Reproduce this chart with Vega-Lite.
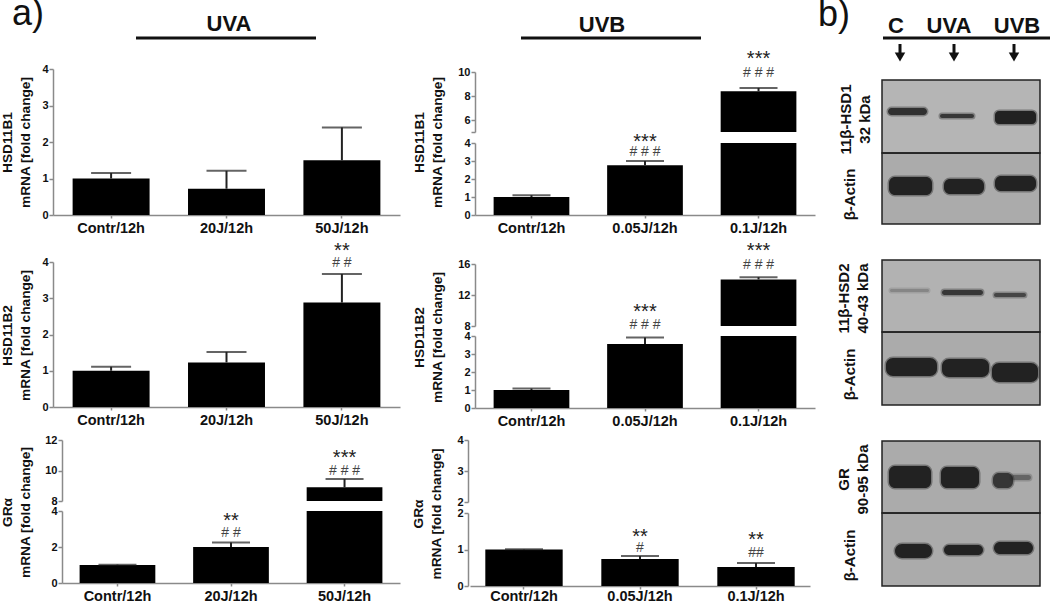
{
"$schema":"https://vega.github.io/schema/vega-lite/v6.json",
"background":"white",
"padding":{"left":-1,"top":-4,"right":0,"bottom":0},
"config":{"view":{"stroke":null},"font":"Liberation Sans",
"axis":{"grid":false,"domainColor":"#8a8a8a","domainWidth":1.5,"tickColor":"#8a8a8a","tickWidth":1.5,"tickSize":4,"labelFont":"Liberation Sans","labelFontWeight":"bold","labelColor":"#111","labelFontSize":11,"labelPadding":1,"titleFont":"Liberation Sans","titleFontWeight":"bold","titleColor":"#111","titleFontSize":13.7,"titleLineHeight":18},
"axisY":{"format":"d","tickCount":12},
"axisX":{"labelFontSize":14.5,"labelAngle":0,"tickSize":3,"labelPadding":3,"labelColor":"#111"}},
"datasets":{
"bars":[
{"uv":"UVA","gene":"HSD11B1","dose":"Contr/12h","mean":1,"low":1,"hi":1.15},
{"uv":"UVA","gene":"HSD11B1","dose":"20J/12h","mean":0.72,"low":0.72,"hi":1.21},
{"uv":"UVA","gene":"HSD11B1","dose":"50J/12h","mean":1.5,"low":1.5,"hi":2.4},
{"uv":"UVA","gene":"HSD11B2","dose":"Contr/12h","mean":1,"low":1,"hi":1.11},
{"uv":"UVA","gene":"HSD11B2","dose":"20J/12h","mean":1.23,"low":1.23,"hi":1.52},
{"uv":"UVA","gene":"HSD11B2","dose":"50J/12h","mean":2.88,"low":2.88,"hi":3.67,"stars":"**","hash":"# #","star_at":4.41,"hash_at":3.97},
{"uv":"UVA","gene":"GRa","dose":"Contr/12h","mean":1,"low":1,"hi":1.02},
{"uv":"UVA","gene":"GRa","dose":"20J/12h","mean":2,"low":2,"hi":2.25,"stars":"**","hash":"# #","star_at":3.67,"hash_at":2.78},
{"uv":"UVA","gene":"GRa","dose":"50J/12h","mean":8.9,"low":4,"hi":9.45,"stars":"***","hash":"# # #","star_at":11.08,"hash_at":10},
{"uv":"UVB","gene":"HSD11B1","dose":"Contr/12h","mean":1,"low":1,"hi":1.1},
{"uv":"UVB","gene":"HSD11B1","dose":"0.05J/12h","mean":2.77,"low":2.77,"hi":3,"stars":"***","hash":"# # #","star_at":4.28,"hash_at":3.5},
{"uv":"UVB","gene":"HSD11B1","dose":"0.1J/12h","mean":8.4,"low":4,"hi":8.67,"stars":"***","hash":"# # #","star_at":11.42,"hash_at":9.92},
{"uv":"UVB","gene":"HSD11B2","dose":"Contr/12h","mean":1,"low":1,"hi":1.08},
{"uv":"UVB","gene":"HSD11B2","dose":"0.05J/12h","mean":3.55,"low":3.55,"hi":3.92,"stars":"***","hash":"# # #","star_at":5.56,"hash_at":4.61},
{"uv":"UVB","gene":"HSD11B2","dose":"0.1J/12h","mean":14,"low":4,"hi":14.3,"stars":"***","hash":"# # #","star_at":18.19,"hash_at":15.87},
{"uv":"UVB","gene":"GRa","dose":"Contr/12h","mean":1,"low":1,"hi":1.01},
{"uv":"UVB","gene":"GRa","dose":"0.05J/12h","mean":0.74,"low":0.74,"hi":0.82,"stars":"**","hash":"#","star_at":1.45,"hash_at":1.04},
{"uv":"UVB","gene":"GRa","dose":"0.1J/12h","mean":0.52,"low":0.52,"hi":0.63,"stars":"**","hash":"##","star_at":1.37,"hash_at":0.9}
],
"headA":[{"t":"a)","big":1,"at":-25,"base":25}, {"t":"UVA","big":0,"at":176,"base":31}],
"headB":[{"t":"UVB","big":0,"at":134,"base":32}],
"headC":[{"t":"b)","big":1,"at":-48,"base":26},{"t":"C","big":0,"at":14,"base":33},{"t":"UVA","big":0,"at":67,"base":33},{"t":"UVB","big":0,"at":135,"base":33}],
"arrows":[{"lane":"C","at":18,"from":44,"to":56,"tip":57},{"lane":"UVA","at":72,"from":44,"to":56,"tip":57},{"lane":"UVB","at":132,"from":44,"to":56,"tip":57}],
"membranes":[
{"blot":"b1u","left":0,"right":158,"top":0,"bottom":73,"density":0.29},
{"blot":"b1l","left":0,"right":158,"top":0,"bottom":71,"density":0.33},
{"blot":"b2u","left":0,"right":158,"top":0,"bottom":72,"density":0.3},
{"blot":"b2l","left":0,"right":158,"top":0,"bottom":73,"density":0.33},
{"blot":"b3u","left":0,"right":158,"top":0,"bottom":72,"density":0.33},
{"blot":"b3l","left":0,"right":158,"top":0,"bottom":73,"density":0.33}],
"bands":[
{"blot":"b1u","lane":"C","left":6,"right":45,"top":28,"bottom":35,"density":0.9},
{"blot":"b1u","lane":"UVA","left":58,"right":92,"top":34,"bottom":38,"density":0.85},
{"blot":"b1u","lane":"UVB","left":113,"right":154,"top":31,"bottom":44,"density":1},
{"blot":"b1l","lane":"C","left":7,"right":50,"top":24,"bottom":42,"density":1},
{"blot":"b1l","lane":"UVA","left":62,"right":102,"top":26,"bottom":41,"density":1},
{"blot":"b1l","lane":"UVB","left":113,"right":154,"top":23,"bottom":38,"density":1},
{"blot":"b2u","lane":"C","left":8,"right":47,"top":29,"bottom":32,"density":0.3},
{"blot":"b2u","lane":"UVA","left":60,"right":101,"top":30,"bottom":35,"density":0.85},
{"blot":"b2u","lane":"UVB","left":112,"right":144,"top":33,"bottom":37,"density":0.75},
{"blot":"b2l","lane":"C","left":4,"right":55,"top":26,"bottom":44,"density":1},
{"blot":"b2l","lane":"UVA","left":60,"right":107,"top":27,"bottom":45,"density":1},
{"blot":"b2l","lane":"UVB","left":110,"right":156,"top":31,"bottom":50,"density":1},
{"blot":"b3u","lane":"C","left":7,"right":49,"top":25,"bottom":47,"density":1},
{"blot":"b3u","lane":"UVA","left":59,"right":97,"top":26,"bottom":47,"density":1},
{"blot":"b3u","lane":"UVB","left":111,"right":131,"top":32,"bottom":47,"density":0.85},
{"blot":"b3u","lane":"UVB","left":129,"right":149,"top":34,"bottom":39,"density":0.5},
{"blot":"b3l","lane":"C","left":13,"right":50,"top":31,"bottom":45,"density":1},
{"blot":"b3l","lane":"UVA","left":62,"right":101,"top":32,"bottom":42,"density":1},
{"blot":"b3l","lane":"UVB","left":112,"right":151,"top":29,"bottom":41,"density":1}]
},
"spacing":0,
"hconcat":[
{"vconcat":[
{"width":357,"height":48,"layer":[
{"data":{"name":"headA"},"transform":[{"filter":"datum.big==1"}],"mark":{"type":"text","font":"Liberation Sans","fontSize":36,"baseline":"alphabetic","color":"#111"},"encoding":{"x":{"field":"at","type":"quantitative","scale":{"domain":[0,357],"nice":false},"axis":null},"y":{"field":"base","type":"quantitative","scale":{"domain":[0,48],"range":[0,48],"nice":false},"axis":null},"text":{"field":"t"}}},
{"data":{"name":"headA"},"transform":[{"filter":"datum.big==0"}],"mark":{"type":"text","font":"Liberation Sans","fontWeight":"bold","fontSize":22,"baseline":"alphabetic","color":"#111"},"encoding":{"x":{"field":"at","type":"quantitative"},"y":{"field":"base","type":"quantitative"},"text":{"field":"t"}}},
{"data":{"values":[{"label":"UVA","from":83,"to":263,"level":38}]},"mark":{"type":"rule","strokeWidth":3,"color":"#111"},"encoding":{"x":{"field":"from","type":"quantitative"},"x2":{"field":"to"},"y":{"field":"level","type":"quantitative"}}}
]},
{"width":347,"height":167,"data":{"name":"bars"},"transform":[{"filter":"datum.uv=='UVA'&&datum.gene=='HSD11B1'"}],
"encoding":{"x":{"field":"dose","type":"nominal","sort":null,"title":null,"scale":{"range":[0,347],"paddingInner":0.333,"paddingOuter":0.17}}},
"layer":[
{"mark":{"type":"bar","color":"black"},"encoding":{"y":{"field":"mean","type":"quantitative","scale":{"domain":[0,4],"range":[167,21],"nice":false},"axis":{"values":[0,1,2,3,4],"title":["HSD11B1","mRNA [fold change]"],"titleX":-39,"titleY":94,"titleAlign":"center"}}}},
{"mark":{"type":"rule","strokeWidth":2,"color":"#222"},"encoding":{"y":{"field":"mean","type":"quantitative"},"y2":{"field":"hi"}}},
{"mark":{"type":"tick","orient":"horizontal","size":40,"thickness":2,"color":"#222"},"encoding":{"y":{"field":"hi","type":"quantitative"}}}
]},
{"width":347,"height":192,"data":{"name":"bars"},"transform":[{"filter":"datum.uv=='UVA'&&datum.gene=='HSD11B2'"}],
"encoding":{"x":{"field":"dose","type":"nominal","sort":null,"title":null,"scale":{"range":[0,347],"paddingInner":0.333,"paddingOuter":0.17}}},
"layer":[
{"mark":{"type":"bar","color":"black"},"encoding":{"y":{"field":"mean","type":"quantitative","scale":{"domain":[0,4],"range":[192,47],"nice":false},"axis":{"values":[0,1,2,3,4],"title":["HSD11B2","mRNA [fold change]"],"titleX":-39,"titleY":120,"titleAlign":"center"}}}},
{"mark":{"type":"rule","strokeWidth":2,"color":"#222"},"encoding":{"y":{"field":"mean","type":"quantitative"},"y2":{"field":"hi"}}},
{"mark":{"type":"tick","orient":"horizontal","size":40,"thickness":2,"color":"#222"},"encoding":{"y":{"field":"hi","type":"quantitative"}}},
{"mark":{"type":"text","fontSize":20,"dy":4,"color":"#222"},"encoding":{"y":{"field":"star_at","type":"quantitative"},"text":{"field":"stars"}}},
{"mark":{"type":"text","fontSize":14,"color":"#444"},"encoding":{"y":{"field":"hash_at","type":"quantitative"},"text":{"field":"hash"}}}
]},
{"width":347,"height":94,"data":{"name":"bars"},"transform":[{"filter":"datum.uv=='UVA'&&datum.gene=='GRa'&&datum.mean>=8"}],
"encoding":{"x":{"field":"dose","type":"nominal","sort":null,"axis":null,"scale":{"domain":["Contr/12h","20J/12h","50J/12h"],"range":[9,347],"paddingInner":0.333,"paddingOuter":0.155}}},
"layer":[
{"mark":{"type":"bar","color":"black"},"encoding":{"y":{"field":"mean","type":"quantitative","scale":{"domain":[8,12],"range":[94,33],"nice":false,"zero":false},"axis":{"values":[8,10,12],"offset":-9,"title":null}},"y2":{"datum":8}}},
{"mark":{"type":"rule","strokeWidth":2,"color":"#222"},"encoding":{"y":{"field":"mean","type":"quantitative"},"y2":{"field":"hi"}}},
{"mark":{"type":"tick","orient":"horizontal","size":38,"thickness":2,"color":"#222"},"encoding":{"y":{"field":"hi","type":"quantitative"}}},
{"mark":{"type":"text","fontSize":20,"dy":4,"color":"#222"},"encoding":{"y":{"field":"star_at","type":"quantitative"},"text":{"field":"stars"}}},
{"mark":{"type":"text","fontSize":14,"color":"#444"},"encoding":{"y":{"field":"hash_at","type":"quantitative"},"text":{"field":"hash"}}}
]},
{"width":347,"height":82,"data":{"name":"bars"},"transform":[{"filter":"datum.uv=='UVA'&&datum.gene=='GRa'"}],
"encoding":{"x":{"field":"dose","type":"nominal","sort":null,"title":null,"scale":{"range":[9,347],"paddingInner":0.333,"paddingOuter":0.155}}},
"layer":[
{"mark":{"type":"bar","color":"black"},"encoding":{"y":{"field":"low","type":"quantitative","scale":{"domain":[0,4],"range":[82,10],"nice":false},"axis":{"values":[0,2,4],"offset":-9,"title":["GRα","mRNA [fold change]"],"titleX":-48,"titleY":11,"titleAlign":"center"}}}},
{"transform":[{"filter":"datum.mean<4"}],"mark":{"type":"rule","strokeWidth":2,"color":"#222"},"encoding":{"y":{"field":"mean","type":"quantitative"},"y2":{"field":"hi"}}},
{"transform":[{"filter":"datum.mean<4"}],"mark":{"type":"tick","orient":"horizontal","size":38,"thickness":2,"color":"#222"},"encoding":{"y":{"field":"hi","type":"quantitative"}}},
{"transform":[{"filter":"datum.mean<4"}],"mark":{"type":"text","fontSize":20,"dy":4,"color":"#222"},"encoding":{"y":{"field":"star_at","type":"quantitative"},"text":{"field":"stars"}}},
{"transform":[{"filter":"datum.mean<4"}],"mark":{"type":"text","fontSize":14,"color":"#444"},"encoding":{"y":{"field":"hash_at","type":"quantitative"},"text":{"field":"hash"}}}
]}
],"spacing":0,"bounds":"flush"},
{"vconcat":[
{"width":349,"height":48,"layer":[
{"data":{"name":"headB"},"mark":{"type":"text","font":"Liberation Sans","fontWeight":"bold","fontSize":22,"baseline":"alphabetic","color":"#111"},"encoding":{"x":{"field":"at","type":"quantitative","scale":{"domain":[0,349],"nice":false},"axis":null},"y":{"field":"base","type":"quantitative","scale":{"domain":[0,48],"range":[0,48],"nice":false},"axis":null},"text":{"field":"t"}}},
{"data":{"values":[{"label":"UVB","from":53,"to":233,"level":38}]},"mark":{"type":"rule","strokeWidth":3,"color":"#111"},"encoding":{"x":{"field":"from","type":"quantitative"},"x2":{"field":"to"},"y":{"field":"level","type":"quantitative"}}}
]},
{"width":347,"height":84,"data":{"name":"bars"},"transform":[{"filter":"datum.uv=='UVB'&&datum.gene=='HSD11B1'&&datum.mean>=5"}],
"encoding":{"x":{"field":"dose","type":"nominal","sort":null,"axis":null,"scale":{"domain":["Contr/12h","0.05J/12h","0.1J/12h"],"range":[7,347],"paddingInner":0.333,"paddingOuter":0.164}}},
"layer":[
{"mark":{"type":"bar","color":"black"},"encoding":{"y":{"field":"mean","type":"quantitative","scale":{"domain":[5,10],"range":[84,24],"nice":false,"zero":false},"axis":{"values":[5,6,8,10],"labelExpr":"datum.value==5?'':datum.label","offset":-7,"title":null}},"y2":{"datum":5}}},
{"mark":{"type":"rule","strokeWidth":2,"color":"#222"},"encoding":{"y":{"field":"mean","type":"quantitative"},"y2":{"field":"hi"}}},
{"mark":{"type":"tick","orient":"horizontal","size":38,"thickness":2,"color":"#222"},"encoding":{"y":{"field":"hi","type":"quantitative"}}},
{"mark":{"type":"text","fontSize":20,"dy":4,"color":"#222"},"encoding":{"y":{"field":"star_at","type":"quantitative"},"text":{"field":"stars"}}},
{"mark":{"type":"text","fontSize":14,"color":"#444"},"encoding":{"y":{"field":"hash_at","type":"quantitative"},"text":{"field":"hash"}}}
]},
{"width":347,"height":83,"data":{"name":"bars"},"transform":[{"filter":"datum.uv=='UVB'&&datum.gene=='HSD11B1'"}],
"encoding":{"x":{"field":"dose","type":"nominal","sort":null,"title":null,"scale":{"range":[7,347],"paddingInner":0.333,"paddingOuter":0.164}}},
"layer":[
{"mark":{"type":"bar","color":"black"},"encoding":{"y":{"field":"low","type":"quantitative","scale":{"domain":[0,4],"range":[83,11],"nice":false},"axis":{"values":[0,1,2,3,4],"offset":-7,"title":["HSD11B1","mRNA [fold change]"],"titleX":-49,"titleY":10,"titleAlign":"center"}}}},
{"transform":[{"filter":"datum.mean<4"}],"mark":{"type":"rule","strokeWidth":2,"color":"#222"},"encoding":{"y":{"field":"mean","type":"quantitative"},"y2":{"field":"hi"}}},
{"transform":[{"filter":"datum.mean<4"}],"mark":{"type":"tick","orient":"horizontal","size":38,"thickness":2,"color":"#222"},"encoding":{"y":{"field":"hi","type":"quantitative"}}},
{"transform":[{"filter":"datum.mean<4"}],"mark":{"type":"text","fontSize":20,"dy":4,"color":"#222"},"encoding":{"y":{"field":"star_at","type":"quantitative"},"text":{"field":"stars"}}},
{"transform":[{"filter":"datum.mean<4"}],"mark":{"type":"text","fontSize":14,"color":"#444"},"encoding":{"y":{"field":"hash_at","type":"quantitative"},"text":{"field":"hash"}}}
]},
{"width":347,"height":111,"data":{"name":"bars"},"transform":[{"filter":"datum.uv=='UVB'&&datum.gene=='HSD11B2'&&datum.mean>=8"}],
"encoding":{"x":{"field":"dose","type":"nominal","sort":null,"axis":null,"scale":{"domain":["Contr/12h","0.05J/12h","0.1J/12h"],"range":[7,347],"paddingInner":0.333,"paddingOuter":0.164}}},
"layer":[
{"mark":{"type":"bar","color":"black"},"encoding":{"y":{"field":"mean","type":"quantitative","scale":{"domain":[8,16],"range":[111,49],"nice":false,"zero":false},"axis":{"values":[8,12,16],"offset":-7,"title":null}},"y2":{"datum":8}}},
{"mark":{"type":"rule","strokeWidth":2,"color":"#222"},"encoding":{"y":{"field":"mean","type":"quantitative"},"y2":{"field":"hi"}}},
{"mark":{"type":"tick","orient":"horizontal","size":38,"thickness":2,"color":"#222"},"encoding":{"y":{"field":"hi","type":"quantitative"}}},
{"mark":{"type":"text","fontSize":20,"dy":4,"color":"#222"},"encoding":{"y":{"field":"star_at","type":"quantitative"},"text":{"field":"stars"}}},
{"mark":{"type":"text","fontSize":14,"color":"#444"},"encoding":{"y":{"field":"hash_at","type":"quantitative"},"text":{"field":"hash"}}}
]},
{"width":347,"height":82,"data":{"name":"bars"},"transform":[{"filter":"datum.uv=='UVB'&&datum.gene=='HSD11B2'"}],
"encoding":{"x":{"field":"dose","type":"nominal","sort":null,"title":null,"scale":{"range":[7,347],"paddingInner":0.333,"paddingOuter":0.164}}},
"layer":[
{"mark":{"type":"bar","color":"black"},"encoding":{"y":{"field":"low","type":"quantitative","scale":{"domain":[0,4],"range":[82,10],"nice":false},"axis":{"values":[0,1,2,3,4],"offset":-7,"title":["HSD11B2","mRNA [fold change]"],"titleX":-49,"titleY":11,"titleAlign":"center"}}}},
{"transform":[{"filter":"datum.mean<4"}],"mark":{"type":"rule","strokeWidth":2,"color":"#222"},"encoding":{"y":{"field":"mean","type":"quantitative"},"y2":{"field":"hi"}}},
{"transform":[{"filter":"datum.mean<4"}],"mark":{"type":"tick","orient":"horizontal","size":38,"thickness":2,"color":"#222"},"encoding":{"y":{"field":"hi","type":"quantitative"}}},
{"transform":[{"filter":"datum.mean<4"}],"mark":{"type":"text","fontSize":20,"dy":4,"color":"#222"},"encoding":{"y":{"field":"star_at","type":"quantitative"},"text":{"field":"stars"}}},
{"transform":[{"filter":"datum.mean<4"}],"mark":{"type":"text","fontSize":14,"color":"#444"},"encoding":{"y":{"field":"hash_at","type":"quantitative"},"text":{"field":"hash"}}}
]},
{"width":347,"height":94,"data":{"name":"bars"},"transform":[{"filter":"datum.uv=='UVB'&&datum.gene=='GRa'&&datum.mean>=2"}],
"encoding":{"x":{"field":"dose","type":"nominal","sort":null,"axis":null,"scale":{"domain":["Contr/12h","0.05J/12h","0.1J/12h"],"range":[2,342],"paddingInner":0.333,"paddingOuter":0.132}}},
"layer":[
{"mark":{"type":"bar","color":"black"},"encoding":{"y":{"field":"mean","type":"quantitative","scale":{"domain":[2,4],"range":[94,32],"nice":false,"zero":false},"axis":{"values":[2,3,4],"title":null}}}}
]},
{"width":347,"height":84,"data":{"name":"bars"},"transform":[{"filter":"datum.uv=='UVB'&&datum.gene=='GRa'"}],
"encoding":{"x":{"field":"dose","type":"nominal","sort":null,"title":null,"axis":{"labelPadding":0},"scale":{"range":[2,342],"paddingInner":0.333,"paddingOuter":0.132}}},
"layer":[
{"mark":{"type":"bar","color":"black"},"encoding":{"y":{"field":"low","type":"quantitative","scale":{"domain":[0,2],"range":[84,11],"nice":false},"axis":{"values":[0,1,2],"title":["GRα","mRNA [fold change]"],"titleX":-43,"titleY":11.5,"titleAlign":"center"}}}},
{"mark":{"type":"rule","strokeWidth":2,"color":"#222"},"encoding":{"y":{"field":"mean","type":"quantitative"},"y2":{"field":"hi"}}},
{"mark":{"type":"tick","orient":"horizontal","size":38,"thickness":2,"color":"#222"},"encoding":{"y":{"field":"hi","type":"quantitative"}}},
{"mark":{"type":"text","fontSize":20,"dy":4,"color":"#222"},"encoding":{"y":{"field":"star_at","type":"quantitative"},"text":{"field":"stars"}}},
{"mark":{"type":"text","fontSize":14,"color":"#444"},"encoding":{"y":{"field":"hash_at","type":"quantitative"},"text":{"field":"hash"}}}
]}
],"spacing":0,"bounds":"flush"},
{"spacing":0,"bounds":"flush","vconcat":[
{"width":158,"height":80,"layer":[
{"data":{"name":"headC"},"transform":[{"filter":"datum.big==1"}],"mark":{"type":"text","font":"Liberation Sans","fontSize":36,"baseline":"alphabetic","color":"#111"},"encoding":{"x":{"field":"at","type":"quantitative","scale":{"domain":[0,158],"nice":false},"axis":null},"y":{"field":"base","type":"quantitative","scale":{"domain":[0,80],"range":[0,80],"nice":false},"axis":null},"text":{"field":"t"}}},
{"data":{"name":"headC"},"transform":[{"filter":"datum.big==0"}],"mark":{"type":"text","font":"Liberation Sans","fontWeight":"bold","fontSize":22,"baseline":"alphabetic","color":"#111"},"encoding":{"x":{"field":"at","type":"quantitative"},"y":{"field":"base","type":"quantitative"},"text":{"field":"t"}}},
{"data":{"values":[{"label":"lanes","from":1,"to":169,"level":38}]},"mark":{"type":"rule","strokeWidth":3,"color":"#111"},"encoding":{"x":{"field":"from","type":"quantitative"},"x2":{"field":"to"},"y":{"field":"level","type":"quantitative"}}},
{"data":{"name":"arrows"},"mark":{"type":"rule","strokeWidth":3,"color":"#111"},"encoding":{"x":{"field":"at","type":"quantitative"},"y":{"field":"from","type":"quantitative"},"y2":{"field":"to"}}},
{"data":{"name":"arrows"},"mark":{"type":"point","shape":"triangle-down","filled":true,"size":110,"color":"#111","opacity":1},"encoding":{"x":{"field":"at","type":"quantitative"},"y":{"field":"tip","type":"quantitative"}}}
]},
{"width":158,"height":73,"layer":[
{"data":{"name":"membranes"},"transform":[{"filter":"datum.blot=='b1u'"}],"mark":{"type":"rect","fill":"#000","stroke":"#222","strokeWidth":1.5},"encoding":{"x":{"field":"left","type":"quantitative","scale":{"domain":[0,158],"nice":false},"axis":null},"x2":{"field":"right"},"y":{"field":"top","type":"quantitative","scale":{"domain":[0,73],"range":[0,73],"nice":false},"axis":{"domain":false,"ticks":false,"labels":false,"title":["11β-HSD1","32 kDa"],"titleFontSize":15,"titleLineHeight":19,"titleX":-29,"titleY":39,"titleAlign":"center"}},"y2":{"field":"bottom"},"fillOpacity":{"field":"density","type":"quantitative","scale":{"domain":[0,1],"range":[0,1]},"legend":null}}},
{"data":{"name":"bands"},"transform":[{"filter":"datum.blot=='b1u'"}],"mark":{"type":"rect","fill":"#222","stroke":"#222","strokeWidth":3,"strokeOpacity":0.4,"cornerRadius":4},"encoding":{"x":{"field":"left","type":"quantitative"},"x2":{"field":"right"},"y":{"field":"top","type":"quantitative"},"y2":{"field":"bottom"},"opacity":{"field":"density","type":"quantitative","scale":{"domain":[0,1],"range":[0,1]},"legend":null}}}
]},
{"width":158,"height":71,"layer":[
{"data":{"name":"membranes"},"transform":[{"filter":"datum.blot=='b1l'"}],"mark":{"type":"rect","fill":"#000","stroke":"#222","strokeWidth":1.5},"encoding":{"x":{"field":"left","type":"quantitative","scale":{"domain":[0,158],"nice":false},"axis":null},"x2":{"field":"right"},"y":{"field":"top","type":"quantitative","scale":{"domain":[0,71],"range":[0,71],"nice":false},"axis":{"domain":false,"ticks":false,"labels":false,"title":"β-Actin","titleFontSize":15,"titleX":-25,"titleY":41,"titleAlign":"center"}},"y2":{"field":"bottom"},"fillOpacity":{"field":"density","type":"quantitative","scale":{"domain":[0,1],"range":[0,1]},"legend":null}}},
{"data":{"name":"bands"},"transform":[{"filter":"datum.blot=='b1l'"}],"mark":{"type":"rect","fill":"#222","stroke":"#222","strokeWidth":3,"strokeOpacity":0.4,"cornerRadius":6},"encoding":{"x":{"field":"left","type":"quantitative"},"x2":{"field":"right"},"y":{"field":"top","type":"quantitative"},"y2":{"field":"bottom"},"opacity":{"field":"density","type":"quantitative","scale":{"domain":[0,1],"range":[0,1]},"legend":null}}}
]},
{"width":158,"height":108,"layer":[
{"data":{"name":"membranes"},"transform":[{"filter":"datum.blot=='b2u'"}],"mark":{"type":"rect","fill":"#000","stroke":"#222","strokeWidth":1.5},"encoding":{"x":{"field":"left","type":"quantitative","scale":{"domain":[0,158],"nice":false},"axis":null},"x2":{"field":"right"},"y":{"field":"top","type":"quantitative","scale":{"domain":[0,72],"range":[36,108],"nice":false},"axis":{"domain":false,"ticks":false,"labels":false,"title":["11β-HSD2","40-43 kDa"],"titleFontSize":15,"titleLineHeight":19,"titleX":-31,"titleY":74,"titleAlign":"center"}},"y2":{"field":"bottom"},"fillOpacity":{"field":"density","type":"quantitative","scale":{"domain":[0,1],"range":[0,1]},"legend":null}}},
{"data":{"name":"bands"},"transform":[{"filter":"datum.blot=='b2u'"}],"mark":{"type":"rect","fill":"#222","stroke":"#222","strokeWidth":3,"strokeOpacity":0.4,"cornerRadius":3},"encoding":{"x":{"field":"left","type":"quantitative"},"x2":{"field":"right"},"y":{"field":"top","type":"quantitative"},"y2":{"field":"bottom"},"opacity":{"field":"density","type":"quantitative","scale":{"domain":[0,1],"range":[0,1]},"legend":null}}}
]},
{"width":158,"height":73,"layer":[
{"data":{"name":"membranes"},"transform":[{"filter":"datum.blot=='b2l'"}],"mark":{"type":"rect","fill":"#000","stroke":"#222","strokeWidth":1.5},"encoding":{"x":{"field":"left","type":"quantitative","scale":{"domain":[0,158],"nice":false},"axis":null},"x2":{"field":"right"},"y":{"field":"top","type":"quantitative","scale":{"domain":[0,73],"range":[0,73],"nice":false},"axis":{"domain":false,"ticks":false,"labels":false,"title":"β-Actin","titleFontSize":15,"titleX":-25,"titleY":42,"titleAlign":"center"}},"y2":{"field":"bottom"},"fillOpacity":{"field":"density","type":"quantitative","scale":{"domain":[0,1],"range":[0,1]},"legend":null}}},
{"data":{"name":"bands"},"transform":[{"filter":"datum.blot=='b2l'"}],"mark":{"type":"rect","fill":"#222","stroke":"#222","strokeWidth":3,"strokeOpacity":0.4,"cornerRadius":7},"encoding":{"x":{"field":"left","type":"quantitative"},"x2":{"field":"right"},"y":{"field":"top","type":"quantitative"},"y2":{"field":"bottom"},"opacity":{"field":"density","type":"quantitative","scale":{"domain":[0,1],"range":[0,1]},"legend":null}}}
]},
{"width":158,"height":108,"layer":[
{"data":{"name":"membranes"},"transform":[{"filter":"datum.blot=='b3u'"}],"mark":{"type":"rect","fill":"#000","stroke":"#222","strokeWidth":1.5},"encoding":{"x":{"field":"left","type":"quantitative","scale":{"domain":[0,158],"nice":false},"axis":null},"x2":{"field":"right"},"y":{"field":"top","type":"quantitative","scale":{"domain":[0,72],"range":[36,108],"nice":false},"axis":{"domain":false,"ticks":false,"labels":false,"title":["GR","90-95 kDa"],"titleFontSize":15,"titleLineHeight":19,"titleX":-31,"titleY":74,"titleAlign":"center"}},"y2":{"field":"bottom"},"fillOpacity":{"field":"density","type":"quantitative","scale":{"domain":[0,1],"range":[0,1]},"legend":null}}},
{"data":{"name":"bands"},"transform":[{"filter":"datum.blot=='b3u'"}],"mark":{"type":"rect","fill":"#222","stroke":"#222","strokeWidth":3,"strokeOpacity":0.4,"cornerRadius":6},"encoding":{"x":{"field":"left","type":"quantitative"},"x2":{"field":"right"},"y":{"field":"top","type":"quantitative"},"y2":{"field":"bottom"},"opacity":{"field":"density","type":"quantitative","scale":{"domain":[0,1],"range":[0,1]},"legend":null}}}
]},
{"width":158,"height":73,"layer":[
{"data":{"name":"membranes"},"transform":[{"filter":"datum.blot=='b3l'"}],"mark":{"type":"rect","fill":"#000","stroke":"#222","strokeWidth":1.5},"encoding":{"x":{"field":"left","type":"quantitative","scale":{"domain":[0,158],"nice":false},"axis":null},"x2":{"field":"right"},"y":{"field":"top","type":"quantitative","scale":{"domain":[0,73],"range":[0,73],"nice":false},"axis":{"domain":false,"ticks":false,"labels":false,"title":"β-Actin","titleFontSize":15,"titleX":-25,"titleY":42,"titleAlign":"center"}},"y2":{"field":"bottom"},"fillOpacity":{"field":"density","type":"quantitative","scale":{"domain":[0,1],"range":[0,1]},"legend":null}}},
{"data":{"name":"bands"},"transform":[{"filter":"datum.blot=='b3l'"}],"mark":{"type":"rect","fill":"#222","stroke":"#222","strokeWidth":3,"strokeOpacity":0.4,"cornerRadius":7},"encoding":{"x":{"field":"left","type":"quantitative"},"x2":{"field":"right"},"y":{"field":"top","type":"quantitative"},"y2":{"field":"bottom"},"opacity":{"field":"density","type":"quantitative","scale":{"domain":[0,1],"range":[0,1]},"legend":null}}}
]}
]}
]
}
